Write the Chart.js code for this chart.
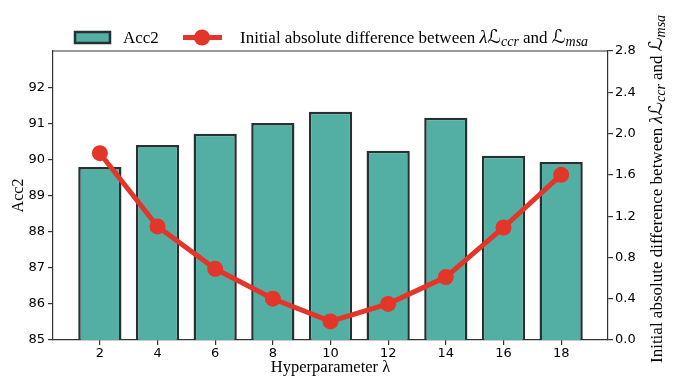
<!DOCTYPE html>
<html>
<head>
<meta charset="utf-8">
<script src="https://cdn.jsdelivr.net/npm/chart.js@4/dist/chart.umd.min.js"></script>
<style>
  html, body { margin: 0; padding: 0; background: #fff; }
  #wrap { width: 673px; height: 381px; position: relative; }
</style>
</head>
<body>
<div id="wrap"><canvas id="lambdaChart"></canvas></div>
<script>
// data
const lambdas = [2, 4, 6, 8, 10, 12, 14, 16, 18];
const acc2 = [89.79, 90.40, 90.71, 91.01, 91.32, 90.24, 91.15, 90.10, 89.93];
const initDiff = [1.81, 1.10, 0.69, 0.40, 0.18, 0.35, 0.61, 1.09, 1.60];
const accTicks = [85, 86, 87, 88, 89, 90, 91, 92];
const diffTicks = [0.0, 0.4, 0.8, 1.2, 1.6, 2.0, 2.4, 2.8];

const teal = '#53afa3';
const edge = '#263232';
const red = '#e3352a';
const axisColor = '#333';
const serif = '"Liberation Serif", "DejaVu Serif", serif';
const script = '"DejaVu Sans", serif';

// pieces of the math label: text, font, baseline shift
const mathLabel = [
  { t: 'Initial absolute difference between ', f: '17px ' + serif, dy: 0 },
  { t: '\u03BB', f: 'italic 18px ' + serif, dy: 0 },
  { t: '\u2112', f: 'italic 19px ' + script, dy: 0 },
  { t: 'ccr', f: 'italic 14px ' + serif, dy: 3 },
  { t: ' and ', f: '17px ' + serif, dy: 0 },
  { t: '\u2112', f: 'italic 19px ' + script, dy: 0 },
  { t: 'msa', f: 'italic 14px ' + serif, dy: 3 }
];

function drawRich(ctx, pieces, x, y) {
  ctx.textBaseline = 'alphabetic';
  ctx.textAlign = 'left';
  pieces.forEach(function(p) {
    ctx.font = p.f;
    ctx.fillText(p.t, x, y + p.dy);
    x += ctx.measureText(p.t).width;
  });
}

// legend, top frame line and right axis title
const extras = {
  id: 'extras',
  afterDraw(chart) {
    const ctx = chart.ctx;
    const a = chart.chartArea;
    ctx.save();

    // top spine
    ctx.strokeStyle = axisColor;
    ctx.lineWidth = 1.2;
    ctx.beginPath();
    ctx.moveTo(a.left, a.top);
    ctx.lineTo(a.right, a.top);
    ctx.stroke();

    // legend: bar swatch
    ctx.fillStyle = teal;
    ctx.fillRect(75, 32, 35, 11);
    ctx.strokeStyle = edge;
    ctx.lineWidth = 2.5;
    ctx.strokeRect(75, 32, 35, 11);
    ctx.fillStyle = '#000';
    ctx.font = '17px ' + serif;
    ctx.fillText('Acc2', 123, 43);

    // legend: line swatch
    ctx.strokeStyle = red;
    ctx.lineWidth = 5;
    ctx.beginPath();
    ctx.moveTo(183, 37.5);
    ctx.lineTo(222, 37.5);
    ctx.stroke();
    ctx.fillStyle = red;
    ctx.beginPath();
    ctx.arc(202, 37.5, 8, 0, Math.PI * 2);
    ctx.fill();
    ctx.fillStyle = '#000';
    drawRich(ctx, mathLabel, 240, 43);

    // right axis title (rotated)
    ctx.translate(662, 363);
    ctx.rotate(-Math.PI / 2);
    drawRich(ctx, mathLabel, 0, 0);
    ctx.restore();
  }
};

const ctx = document.getElementById('lambdaChart').getContext('2d');

const lambdaChart = new Chart(ctx, {
  type: 'bar',
  data: {
    datasets: [
      {
        type: 'line',
        label: 'Initial absolute difference',
        data: lambdas.map((l, i) => ({ x: l, y: initDiff[i] })),
        yAxisID: 'y1',
        borderColor: red,
        backgroundColor: red,
        borderWidth: 5,
        pointRadius: 8,
        pointBorderWidth: 0,
        pointBackgroundColor: red,
        tension: 0,
        order: 0
      },
      {
        label: 'Acc2',
        data: lambdas.map((l, i) => ({ x: l, y: acc2[i] })),
        yAxisID: 'y',
        backgroundColor: teal,
        borderColor: edge,
        borderWidth: 2.5,
        borderSkipped: false,
        barPercentage: 0.75,
        categoryPercentage: 1,
        order: 1
      }
    ]
  },
  options: {
    responsive: true,
    maintainAspectRatio: false,
    animation: false,
    events: [],
    layout: { padding: { top: 51, left: 0, right: 0, bottom: 0 } },
    plugins: {
      legend: { display: false },
      tooltip: { enabled: false }
    },
    scales: {
      x: {
        type: 'linear',
        offset: false,
        min: 0.375,
        max: 19.625,
        afterBuildTicks: (scale) => { scale.ticks = lambdas.map(v => ({ value: v })); },
        afterFit: (scale) => { scale.height = 41; },
        grid: { offset: false, drawOnChartArea: false, drawTicks: true, tickLength: 5, color: axisColor, lineWidth: 1.2 },
        border: { color: axisColor, width: 1.2 },
        ticks: { color: '#000', font: { family: 'DejaVu Sans', size: 13 }, padding: 1 },
        title: {
          display: true,
          text: 'Hyperparameter \u03BB',
          color: '#000',
          font: { family: serif, size: 16.5 },
          padding: { top: 0, bottom: 3 }
        }
      },
      y: {
        position: 'left',
        min: 85,
        max: 93,
        afterBuildTicks: (scale) => { scale.ticks = accTicks.map(v => ({ value: v })); },
        afterFit: (scale) => { scale.width = 53; },
        grid: { drawOnChartArea: false, drawTicks: true, tickLength: 5, color: axisColor, lineWidth: 1.2 },
        border: { color: axisColor, width: 1.2 },
        ticks: { color: '#000', font: { family: 'DejaVu Sans', size: 13 }, padding: 3 },
        title: {
          display: true,
          text: 'Acc2',
          color: '#000',
          font: { family: serif, size: 16 },
          padding: { top: 9, bottom: 0 }
        }
      },
      y1: {
        position: 'right',
        min: 0,
        max: 2.8,
        afterBuildTicks: (scale) => { scale.ticks = diffTicks.map(v => ({ value: v })); },
        afterFit: (scale) => { scale.width = 65; },
        grid: { drawOnChartArea: false, drawTicks: true, tickLength: 5, color: axisColor, lineWidth: 1.2 },
        border: { color: axisColor, width: 1.2 },
        ticks: {
          color: '#000',
          font: { family: 'DejaVu Sans', size: 13 },
          padding: 2,
          callback: (v) => Number(v).toFixed(1)
        }
      }
    }
  },
  plugins: [extras]
});
</script>
</body>
</html>
